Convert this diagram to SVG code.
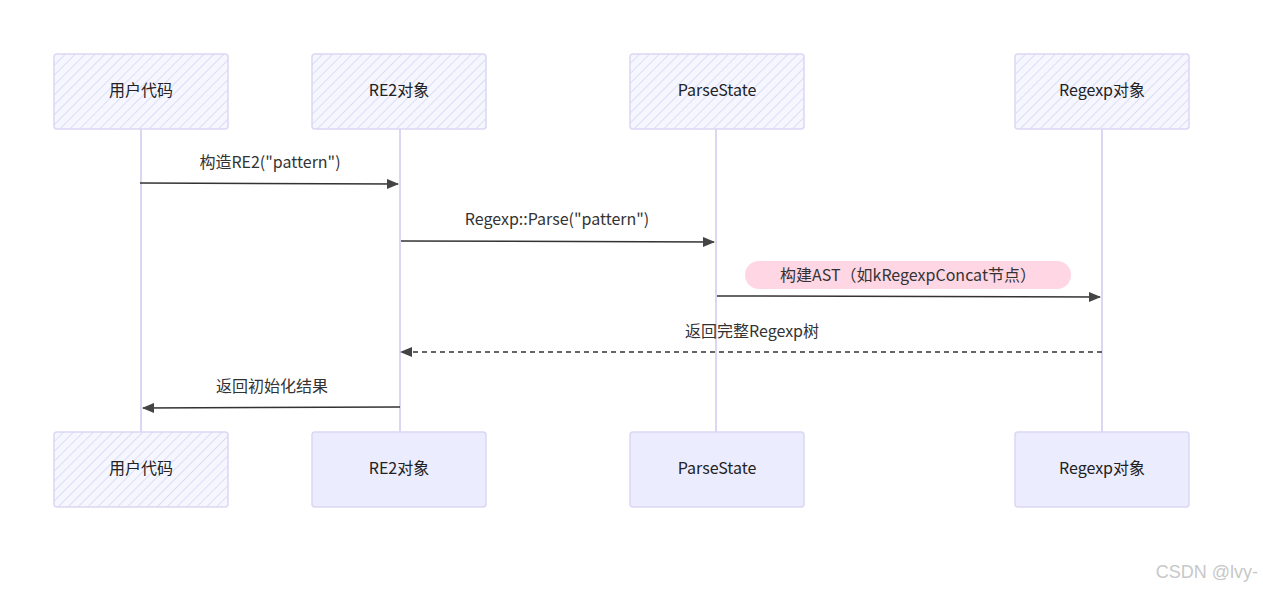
<svg xmlns="http://www.w3.org/2000/svg" width="1263" height="592" viewBox="0 0 1263 592">
<defs>
<pattern id="hatch" width="7" height="7" patternUnits="userSpaceOnUse" patternTransform="rotate(45)">
<rect width="7" height="7" fill="#f6f6ff"/>
<line x1="0" y1="0" x2="0" y2="7" stroke="#dcdcf6" stroke-width="2"/>
</pattern>
<marker id="arr" viewBox="0 0 12 10" refX="11" refY="5" markerWidth="12" markerHeight="10" markerUnits="userSpaceOnUse" orient="auto">
<path d="M0,0 L12,5 L0,10 Z" fill="#444"/>
</marker>
</defs>
<style>
.box{stroke:#dcd6f4;stroke-width:1.5}
.h{fill:url(#hatch)}
.s{fill:#ececff}
.t{font-family:"Noto Sans CJK SC","Liberation Sans",sans-serif;font-size:16px;fill:#222;text-anchor:middle;dominant-baseline:middle}
.life{stroke:#dcd6f4;stroke-width:2}
.msg{stroke:#333;stroke-width:1.5;fill:none;marker-end:url(#arr)}
.lbl{font-family:"Noto Sans CJK SC","Liberation Sans",sans-serif;font-size:16px;fill:#333;text-anchor:middle}
</style>
<rect width="1263" height="592" fill="#fff"/>
<g id="lifelines">
<line class="life" x1="141" y1="129" x2="141" y2="432"/>
<line class="life" x1="400" y1="129" x2="400" y2="432"/>
<line class="life" x1="716" y1="129" x2="716" y2="432"/>
<line class="life" x1="1102" y1="129" x2="1102" y2="432"/>
</g>
<g id="n_user_top"><rect class="box h" x="54" y="54" width="174" height="75" rx="3"/><text class="t" x="141" y="92">用户代码</text></g>
<g id="n_re2_top"><rect class="box h" x="312" y="54" width="174" height="75" rx="3"/><text class="t" x="399" y="92">RE2对象</text></g>
<g id="n_ps_top"><rect class="box h" x="630" y="54" width="174" height="75" rx="3"/><text class="t" x="717" y="92">ParseState</text></g>
<g id="n_rx_top"><rect class="box h" x="1015" y="54" width="174" height="75" rx="3"/><text class="t" x="1102" y="92">Regexp对象</text></g>
<g id="n_user_bot"><rect class="box h" x="54" y="432" width="174" height="75" rx="3"/><text class="t" x="141" y="470">用户代码</text></g>
<g id="n_re2_bot"><rect class="box s" x="312" y="432" width="174" height="75" rx="3"/><text class="t" x="399" y="470">RE2对象</text></g>
<g id="n_ps_bot"><rect class="box s" x="630" y="432" width="174" height="75" rx="3"/><text class="t" x="717" y="470">ParseState</text></g>
<g id="n_rx_bot"><rect class="box s" x="1015" y="432" width="174" height="75" rx="3"/><text class="t" x="1102" y="470">Regexp对象</text></g>
<g id="connectors">
<line class="msg" x1="140" y1="183" x2="398" y2="184"/>
<text class="lbl" x="270" y="168">构造RE2("pattern")</text>
<line class="msg" x1="401" y1="241" x2="714" y2="242"/>
<text class="lbl" x="557" y="225">Regexp::Parse("pattern")</text>
<rect x="745" y="261" width="326" height="28" rx="14" fill="#ffd6e4"/>
<line class="msg" x1="717" y1="296" x2="1100" y2="297"/>
<text class="lbl" x="908" y="281">构建AST（如kRegexpConcat节点）</text>
<line class="msg" x1="1102" y1="352" x2="401" y2="352" stroke-dasharray="5,4"/>
<text class="lbl" x="752" y="337">返回完整Regexp树</text>
<line class="msg" x1="400" y1="407" x2="143" y2="408" stroke-width="2.5"/>
<text class="lbl" x="272" y="392">返回初始化结果</text>
</g>
<text x="1258" y="578" font-family="Liberation Sans,sans-serif" font-size="18" fill="#c8c8c8" text-anchor="end">CSDN @lvy-</text>
</svg>
